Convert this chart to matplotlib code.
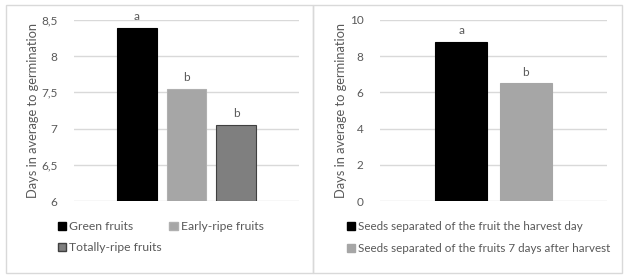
import matplotlib
matplotlib.use("Agg")
import matplotlib.pyplot as plt
from matplotlib.patches import Rectangle, Patch

plt.rcParams['font.family'] = ['Lato', 'DejaVu Sans']

# Data
left_categories = ["Green fruits", "Early-ripe fruits", "Totally-ripe fruits"]
left_values = [8.39, 7.55, 7.05]
left_letters = ["a", "b", "b"]
left_ticks = [6, 6.5, 7, 7.5, 8, 8.5]
left_ticklabels = ["6", "6,5", "7", "7,5", "8", "8,5"]

right_categories = ["Seeds separated of the fruit the harvest day",
                    "Seeds separated of the fruits 7 days after harvest"]
right_values = [8.8, 6.5]
right_letters = ["a", "b"]
right_ticks = [0, 2, 4, 6, 8, 10]
right_ticklabels = ["0", "2", "4", "6", "8", "10"]

ylabel = "Days in average to germination"

W, H = 628, 280
fig = plt.figure(figsize=(W / 100, H / 100), dpi=100)

txt = "#595959"
grid = "#d9d9d9"

def ax_at(x0, y0, x1, y1):
    return fig.add_axes([x0 / W, 1 - y1 / H, (x1 - x0) / W, (y1 - y0) / H])

# Frames
frame = fig.add_axes([0, 0, 1, 1])
frame.set_xlim(0, W)
frame.set_ylim(H, 0)
frame.axis("off")
frame.add_patch(Rectangle((6, 5), 307, 268, fill=False, ec=grid, lw=1))
frame.add_patch(Rectangle((313, 5), 309, 268, fill=False, ec=grid, lw=1))

def style(ax, ticks, labels, ylim, labelx):
    ax.set_ylim(*ylim)
    ax.set_yticks(ticks)
    ax.set_yticklabels(labels, color=txt, fontsize=8.5)
    ax.set_xticks([])
    for s in ax.spines.values():
        s.set_visible(False)
    ax.tick_params(axis="y", length=0, pad=12)
    ax.yaxis.grid(True, color=grid, lw=1)
    ax.set_axisbelow(True)
    ax.set_ylabel(ylabel, color=txt, fontsize=9.3, va="center")
    ax.yaxis.set_label_coords(labelx, 0.5)

# Left panel
axL = ax_at(74, 20, 299, 201)
colorsL = ["#000000", "#a6a6a6", "#7f7f7f"]
edgesL = ["#000000", "#b0b0b0", "#404040"]
xs = list(range(len(left_values)))
axL.bar(xs, [v - 6 for v in left_values], bottom=6, width=0.79,
        color=colorsL, edgecolor=edgesL, lw=0.8)
for x, v, l in zip(xs, left_values, left_letters):
    axL.text(x, v + 0.08, l, ha="center", va="bottom", color=txt, fontsize=8.5)
axL.set_xlim(-1.27, 3.27)
style(axL, left_ticks, left_ticklabels, (6, 8.5), (33 - 74) / 225)

handlesL = [Patch(facecolor=c, edgecolor=e, label=n)
            for c, e, n in zip(colorsL, edgesL, left_categories)]
fig.legend(handles=[handlesL[0], handlesL[2], handlesL[1]],
           labels=[left_categories[0], left_categories[2], left_categories[1]],
           ncol=2, loc="upper left", bbox_to_anchor=(58 / W, 1 - 221 / H),
           frameon=False, fontsize=8.7, labelcolor=txt, handlelength=0.7,
           handleheight=0.7, handletextpad=0.25, columnspacing=0.6,
           labelspacing=0.85, borderaxespad=0, borderpad=0)

# Right panel
axR = ax_at(380, 20, 607, 201)
colorsR = ["#000000", "#a6a6a6"]
xr = list(range(len(right_values)))
axR.bar(xr, right_values, width=0.79, color=colorsR, edgecolor=colorsR, lw=0.8)
for x, v, l in zip(xr, right_values, right_letters):
    axR.text(x, v + 0.3, l, ha="center", va="bottom", color=txt, fontsize=8.5)
axR.set_xlim(-1.25, 2.25)
style(axR, right_ticks, right_ticklabels, (0, 10), (341 - 380) / 227)

handlesR = [Patch(facecolor=c, edgecolor=c, label=n)
            for c, n in zip(colorsR, right_categories)]
fig.legend(handles=handlesR, ncol=1, loc="upper left",
           bbox_to_anchor=(347 / W, 1 - 221 / H),
           frameon=False, fontsize=8.4, labelcolor=txt, handlelength=0.7,
           handleheight=0.7, handletextpad=0.25, labelspacing=0.95,
           borderaxespad=0, borderpad=0)

fig.savefig("out.png", dpi=100, facecolor="white")
